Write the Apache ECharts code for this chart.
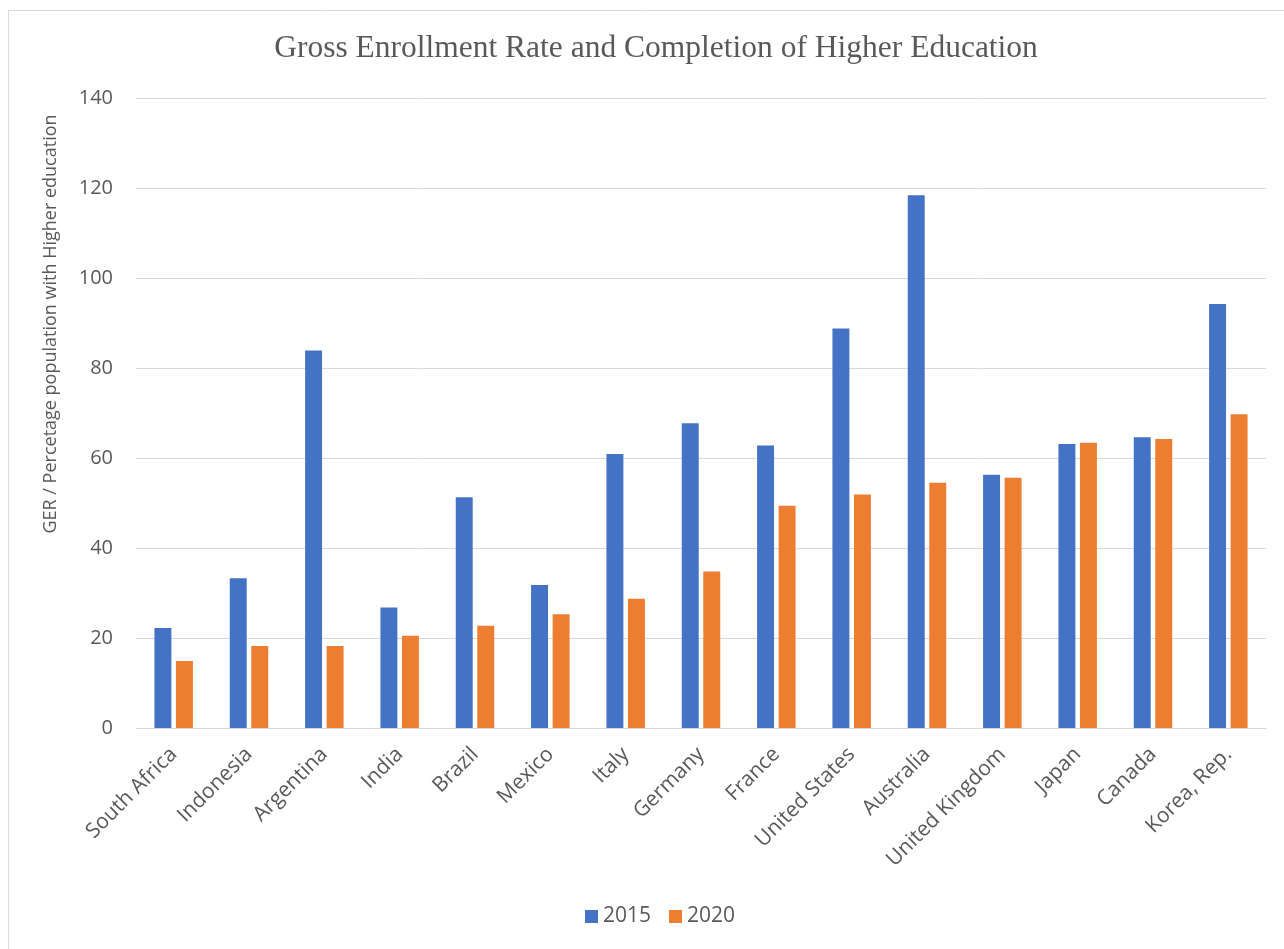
<!DOCTYPE html>
<html>
<head>
<meta charset="utf-8">
<script src="https://cdn.jsdelivr.net/npm/echarts@6/dist/echarts.min.js"></script>
<style>
html,body{margin:0;padding:0;background:#fff;}
#chart{width:1284px;height:949px;}
</style>
</head>
<body>
<div id="chart"></div>
<script>
const categories = ['South Africa','Indonesia','Argentina','India','Brazil','Mexico','Italy','Germany','France','United States','Australia','United Kingdom','Japan','Canada','Korea, Rep.'];
const values2015 = [22.2, 33.3, 83.9, 26.8, 51.3, 31.8, 60.9, 67.7, 62.8, 88.8, 118.4, 56.3, 63.1, 64.6, 94.2];
const values2020 = [14.9, 18.2, 18.2, 20.5, 22.7, 25.3, 28.7, 34.8, 49.4, 51.9, 54.5, 55.6, 63.4, 64.2, 69.7];
const seriesNames = ['2015', '2020'];
const chartTitle = 'Gross Enrollment Rate and Completion of Higher Education';
const yAxisTitle = 'GER / Percetage population with Higher education';

const FONT = '"Open Sans", "Noto Sans", sans-serif';
const GRAY = '#595959';

const chart = echarts.init(document.getElementById('chart'), null, {renderer: 'canvas'});
chart.setOption({
  animation: false,
  backgroundColor: '#ffffff',
  color: ['#4472C4', '#ED7D31'],
  title: {
    text: chartTitle,
    left: 651,
    textAlign: 'center',
    top: 28,
    textStyle: {fontFamily: '"Liberation Serif", "DejaVu Serif", serif', fontSize: 31.5, fontWeight: 'normal', color: GRAY}
  },
  legend: {
    data: seriesNames,
    left: 580,
    top: 901,
    itemWidth: 13,
    itemHeight: 13,
    itemGap: 18,
    icon: 'rect',
    textStyle: {fontFamily: FONT, fontSize: 21, color: GRAY, padding: [0, 0, 0, 0]}
  },
  grid: {left: 136, right: 18, top: 98, bottom: 221, containLabel: false},
  xAxis: {
    type: 'category',
    data: categories,
    axisLine: {show: true, lineStyle: {color: '#D9D9D9', width: 1}},
    axisTick: {show: false},
    axisLabel: {rotate: 45, interval: 0, margin: 23, fontFamily: FONT, fontSize: 21, color: GRAY}
  },
  yAxis: {
    type: 'value',
    min: 0, max: 140, interval: 20,
    axisLine: {show: false},
    axisTick: {show: false},
    splitLine: {lineStyle: {color: '#D9D9D9', width: 1}},
    axisLabel: {margin: 23, fontFamily: FONT, fontSize: 20, color: GRAY}
  },
  graphic: [
    {type: 'rect', shape: {x: 8.5, y: 10.5, width: 1400, height: 1000}, style: {fill: 'none', stroke: '#D9D9D9', lineWidth: 1}, silent: true, z: -1},
    {type: 'text', x: 51, y: 324, rotation: Math.PI / 2,
     style: {text: yAxisTitle, fontFamily: FONT, fontSize: 18, fill: GRAY, textAlign: 'center', textVerticalAlign: 'middle'}}
  ],
  series: [
    {name: seriesNames[0], type: 'bar', data: values2015, barWidth: '22.5%', barGap: '27%'},
    {name: seriesNames[1], type: 'bar', data: values2020, barWidth: '22.5%', barGap: '27%'}
  ]
});
</script>
</body>
</html>
